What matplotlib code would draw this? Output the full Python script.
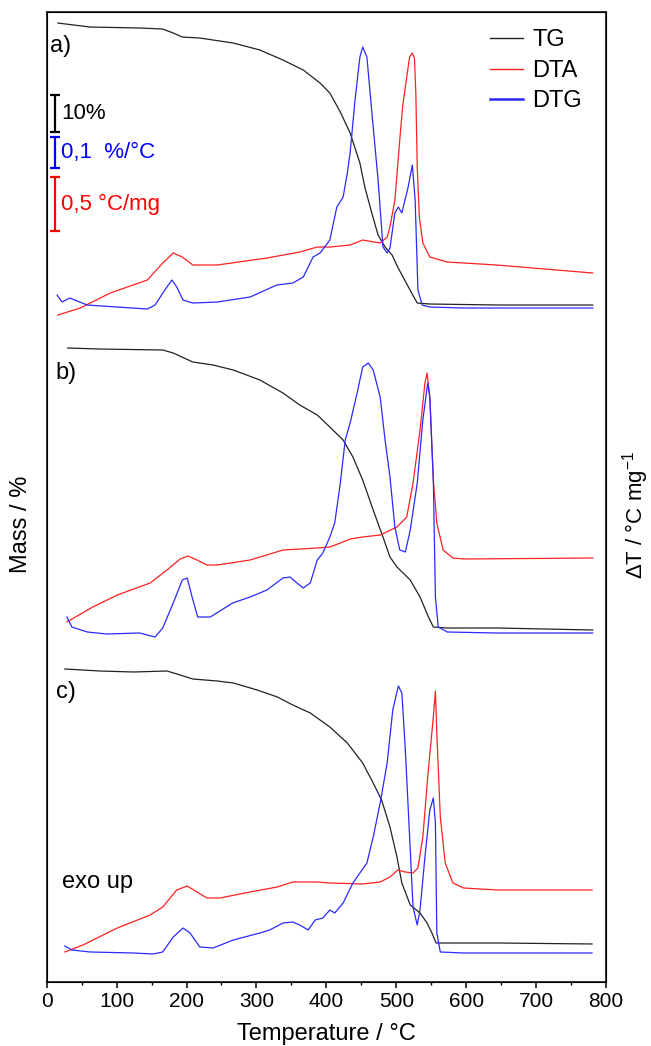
import matplotlib
matplotlib.use("Agg")
import matplotlib.pyplot as plt
from matplotlib.ticker import MultipleLocator

plt.rcParams['font.family'] = ['Liberation Sans', 'DejaVu Sans']
plt.rcParams['mathtext.default'] = 'regular'

# --- sample a) ---
tg_a_t = [16, 62, 134, 166, 181, 194, 219, 267, 305, 338, 367, 391, 405, 420, 434, 441, 448, 455,
          465, 474, 484, 494, 502, 512, 522, 530, 548, 648, 781]
tg_a = [959, 955, 954, 953, 949, 945, 944, 939, 932, 922, 912, 899, 889, 870, 849, 834, 819, 795,
        769, 747, 735, 727, 715, 702, 689, 679, 678, 677, 677]

dta_a_t = [16, 48, 91, 144, 166, 181, 194, 209, 244, 315, 362, 387, 405, 434, 452, 477, 487, 491,
           498, 505, 509, 515, 519, 523, 526, 528, 530, 533, 538, 548, 573, 644, 781]
dta_a = [667, 674, 689, 702, 719, 729, 725, 717, 717, 724, 730, 735, 735, 737, 742, 739, 745, 755,
         782, 842, 875, 905, 925, 929, 924, 889, 815, 765, 739, 725, 720, 717, 709]

dtg_a_t = [15, 22, 33, 58, 101, 144, 155, 169, 179, 186, 195, 209, 244, 291, 329, 352, 367, 381,
           391, 405, 415, 424, 430, 434, 441, 448, 452, 458, 467, 474, 481, 487, 491, 498, 503,
           508, 517, 523, 527, 531, 537, 548, 596, 781]
dtg_a = [687, 680, 684, 677, 675, 673, 677, 692, 702, 695, 682, 679, 680, 685, 697, 699, 705, 725,
         729, 742, 775, 785, 809, 829, 882, 925, 935, 925, 855, 802, 735, 729, 734, 769, 775,
         769, 795, 817, 782, 692, 677, 675, 674, 674]

# --- sample b) ---
tg_b_t = [30, 76, 166, 181, 209, 238, 267, 305, 338, 362, 387, 405, 424, 438, 452, 467, 481, 491,
          501, 520, 534, 546, 553, 573, 644, 781]
tg_b = [634, 633, 632, 629, 620, 617, 612, 602, 589, 577, 567, 555, 542, 525, 502, 472, 445, 425,
        415, 402, 385, 365, 355, 354, 354, 352]

dta_b_t = [29, 66, 101, 148, 172, 191, 202, 215, 229, 244, 291, 338, 387, 405, 420, 434, 452, 477,
           501, 515, 524, 534, 541, 544, 548, 553, 558, 567, 581, 596, 781]
dta_b = [360, 375, 387, 399, 412, 423, 426, 422, 417, 417, 422, 432, 434, 435, 439, 443, 445, 447,
         455, 465, 499, 552, 599, 609, 585, 502, 459, 432, 424, 423, 424]

dtg_b_t = [29, 36, 58, 86, 133, 155, 166, 181, 194, 201, 208, 216, 234, 266, 291, 315, 338, 348,
           358, 367, 377, 387, 395, 405, 412, 420, 427, 434, 444, 452, 460, 467, 477, 484, 491,
           498, 505, 513, 520, 530, 538, 545, 548, 553, 556, 560, 573, 644, 781]
dtg_b = [365, 355, 350, 348, 349, 345, 354, 379, 402, 404, 385, 365, 365, 379, 385, 392, 404, 405,
         399, 394, 399, 422, 429, 445, 459, 499, 542, 559, 589, 615, 619, 612, 585, 542, 505,
         455, 432, 430, 452, 499, 562, 599, 585, 502, 385, 355, 350, 349, 349]

# --- sample c) ---
tg_c_t = [26, 76, 124, 172, 191, 209, 244, 267, 301, 330, 352, 377, 405, 430, 452, 467, 479, 491,
          501, 508, 520, 534, 544, 551, 557, 573, 644, 780]
tg_c = [313, 311, 310, 311, 307, 303, 301, 299, 292, 285, 277, 269, 255, 239, 219, 199, 182, 155,
        125, 99, 77, 69, 59, 49, 39, 39, 39, 38]

dta_c_t = [26, 52, 101, 148, 166, 186, 201, 215, 229, 248, 291, 330, 352, 387, 405, 452, 477, 491,
           502, 513, 524, 531, 538, 545, 553, 556, 558, 563, 570, 581, 596, 644, 780]
dta_c = [30, 37, 54, 67, 75, 92, 96, 90, 84, 84, 90, 95, 100, 100, 99, 98, 100, 105,
         112, 110, 109, 114, 145, 205, 265, 291, 249, 165, 119, 99, 94, 92, 92]

dtg_c_t = [26, 36, 62, 124, 152, 166, 181, 195, 205, 219, 238, 267, 305, 319, 338, 352, 362, 374,
           384, 395, 405, 412, 424, 438, 451, 458, 467, 477, 487, 495, 503, 508, 513, 520, 524,
           530, 534, 541, 548, 553, 556, 558, 563, 596, 780]
dtg_c = [36, 32, 30, 29, 28, 30, 45, 54, 49, 35, 34, 42, 49, 52, 59, 60, 57, 52,
         62, 64, 72, 69, 79, 99, 112, 119, 145, 179, 219, 272, 296, 289, 232, 132, 75,
         57, 72, 125, 172, 184, 159, 49, 30, 29, 29]

# scale bars: (bottom, top, colour, label)
bar_x = 12
bars = [(751, 805, '#ff0000', '0,5 °C/mg'),
        (814, 845, '#0000ff', '0,1  %/°C'),
        (850, 887, '#000000', '10%')]

c_tg, c_dta, c_dtg = '#222222', '#ff2020', '#2a2aff'

fig = plt.figure(figsize=(6.51, 10.46), dpi=100)
ax = fig.add_axes([0.0717, 0.0612, 0.8592, 0.9273])

for t, y in [(tg_a_t, tg_a), (tg_b_t, tg_b), (tg_c_t, tg_c)]:
    ax.plot(t, y, color=c_tg, lw=0.9)
for t, y in [(dta_a_t, dta_a), (dta_b_t, dta_b), (dta_c_t, dta_c)]:
    ax.plot(t, y, color=c_dta, lw=0.9)
for t, y in [(dtg_a_t, dtg_a), (dtg_b_t, dtg_b), (dtg_c_t, dtg_c)]:
    ax.plot(t, y, color=c_dtg, lw=0.9)

# legend (proxy lines)
h1, = ax.plot([], [], color=c_tg, lw=1.0, label='TG')
h2, = ax.plot([], [], color=c_dta, lw=1.0, label='DTA')
h3, = ax.plot([], [], color=c_dtg, lw=1.8, label='DTG')
ax.legend(handles=[h1, h2, h3], loc='upper left', bbox_to_anchor=(0.7926, 0.982),
          frameon=False, fontsize=17, handlelength=1.4, handletextpad=0.38,
          labelspacing=0.36, borderpad=0, borderaxespad=0)

for lo, hi, col, lab in bars:
    ax.errorbar(bar_x, (lo + hi) / 2, yerr=(hi - lo) / 2, color=col, capsize=3.5,
                elinewidth=1.6, capthick=1.6, fmt='none')
    ax.text(bar_x + 9, (lo + hi) / 2, lab, color=col, fontsize=16, va='center', ha='left')

ax.text(5, 936, 'a)', fontsize=17, va='center')
ax.text(12, 609, 'b)', fontsize=17, va='center')
ax.text(14, 290, 'c)', fontsize=17, va='center')
ax.text(22, 100, 'exo up', fontsize=17, va='center')

ax.set_xlim(0, 800)
ax.set_ylim(0, 970)
ax.xaxis.set_major_locator(MultipleLocator(100))
ax.xaxis.set_minor_locator(MultipleLocator(50))
ax.tick_params(axis='x', which='major', direction='out', length=4, width=1.1, labelsize=15, pad=3)
ax.tick_params(axis='x', which='minor', direction='out', length=2, width=1.0)
ax.set_yticks([])
for s in ax.spines.values():
    s.set_linewidth(1.1)

ax.set_xlabel('Temperature / °C', fontsize=17, labelpad=9)
ax.set_ylabel('Mass / %', fontsize=17)
ax.yaxis.set_label_coords(-0.026, 0.472)

ax2 = ax.twinx()
ax2.set_yticks([])
ax2.set_ylabel('ΔT / °C mg$^{-1}$', fontsize=16)
ax2.yaxis.set_label_coords(1.025, 0.481)

fig.savefig('out.png', dpi=100)
